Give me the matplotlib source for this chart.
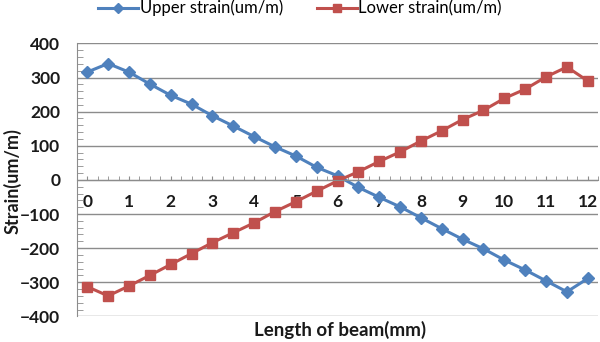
import numpy as np
import matplotlib
matplotlib.use("Agg")
import matplotlib.pyplot as plt
from matplotlib.ticker import MultipleLocator

# beam positions (mm) and strain readings (um/m)
positions = [0, 0.5, 1, 1.5, 2, 2.5, 3, 3.5, 4, 4.5, 5, 5.5, 6,
             6.5, 7, 7.5, 8, 8.5, 9, 9.5, 10, 10.5, 11, 11.5, 12]
upper = [316, 341, 316, 281, 248, 222, 188, 158, 127, 97, 70, 37, 12,
         -22, -51, -79, -111, -143, -174, -202, -235, -264, -296, -328, -289]
lower = [-313, -340, -311, -280, -248, -216, -184, -155, -126, -93, -64, -33, -3,
         24, 54, 82, 114, 144, 177, 204, 239, 266, 302, 331, 290]
xticks = list(range(0, 13))
yticks = list(range(-400, 401, 100))

plt.rcParams['font.family'] = ['Lato', 'DejaVu Sans']

fig = plt.figure(figsize=(6, 3.42), dpi=100)
ax = fig.add_axes([0.128, 0.075, 0.869, 0.798])

blue = '#4F81BD'
red = '#C0504D'
ax.plot(positions, upper, color=blue, lw=2.2, marker='D', ms=6,
        label='Upper strain(um/m)')
ax.plot(positions, lower, color=red, lw=2.2, marker='s', ms=7,
        label='Lower strain(um/m)')

ax.set_xlim(-0.25, 12.25)
ax.set_ylim(-400, 400)

# horizontal gridlines only
ax.set_yticks(yticks)
ax.yaxis.grid(True, color='#8c8c8c', lw=1)
ax.set_axisbelow(True)

for s in ['top', 'right', 'bottom']:
    ax.spines[s].set_visible(False)
ax.spines['left'].set_color('#8c8c8c')
ax.spines['bottom'].set_visible(True)
ax.spines['bottom'].set_position(('data', 0))
ax.spines['bottom'].set_color('#8c8c8c')

# x ticks sit on the zero line, labels below it
ax.set_xticks(xticks)
ax.xaxis.set_minor_locator(MultipleLocator(0.25))
ax.tick_params(axis='x', which='major', length=3, direction='in',
               color='#8c8c8c', pad=10, labelsize=12.5)
ax.tick_params(axis='x', which='minor', length=3, direction='in',
               color='#8c8c8c')
ax.yaxis.set_minor_locator(MultipleLocator(20))
ax.tick_params(axis='y', which='major', length=0, pad=12, labelsize=12.5)
ax.tick_params(axis='y', which='minor', length=4, direction='in',
               color='#8c8c8c')
for t in ax.get_xticklabels() + ax.get_yticklabels():
    t.set_fontweight('bold')
    t.set_color('#1a1a1a')

fig.text(0.567, 0.035, 'Length of beam(mm)', ha='center', va='center',
         fontsize=13.5, fontweight='bold', color='#1a1a1a')
fig.text(0.021, 0.47, 'Strain(um/m)', ha='center', va='center',
         rotation=90, fontsize=13, fontweight='bold', color='#1a1a1a')

fig.legend(loc='center', bbox_to_anchor=(0.50, 0.976), ncol=2, frameon=False,
           fontsize=12, handlelength=2.4, handletextpad=0.1,
           columnspacing=2.0, markerscale=0.9)

fig.savefig('out.png', dpi=100)
